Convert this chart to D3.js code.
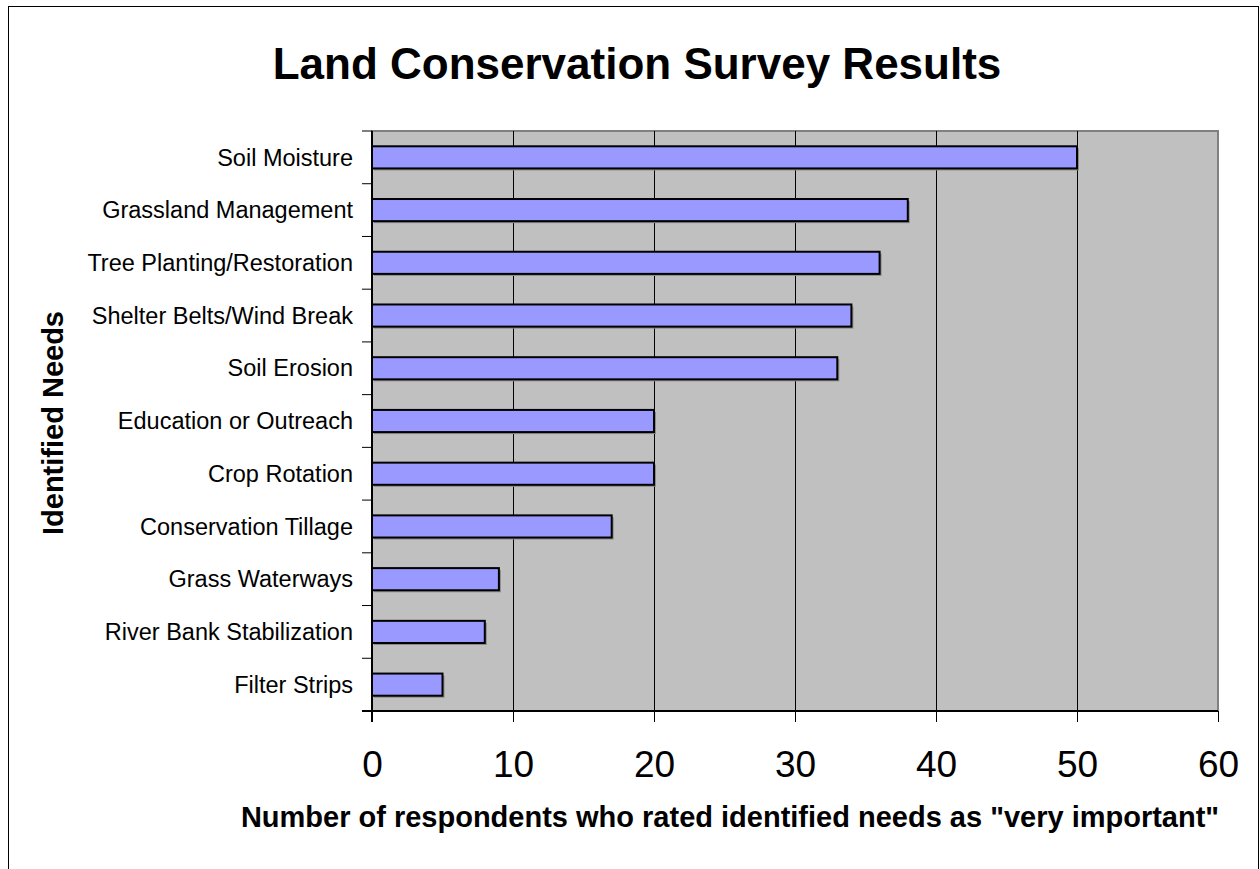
<!DOCTYPE html>
<html>
<head>
<meta charset="utf-8">
<script src="https://cdn.jsdelivr.net/npm/d3@7"></script>
<style>
  html, body { margin: 0; padding: 0; background: #fff; }
  svg { display: block; font-family: "Liberation Sans", Arial, sans-serif; }
</style>
</head>
<body>
<svg id="chart" width="1260" height="869"></svg>
<script>
const categories = [
  "Soil Moisture",
  "Grassland Management",
  "Tree Planting/Restoration",
  "Shelter Belts/Wind Break",
  "Soil Erosion",
  "Education or Outreach",
  "Crop Rotation",
  "Conservation Tillage",
  "Grass Waterways",
  "River Bank Stabilization",
  "Filter Strips"
];
const values = [50, 38, 36, 34, 33, 20, 20, 17, 9, 8, 5];
const xTicks = [0, 10, 20, 30, 40, 50, 60];
const titleText = "Land Conservation Survey Results";
const xTitleText = "Number of respondents who rated identified needs as \"very important\"";
const yTitleText = "Identified Needs";

const svg = d3.select("#chart");
const plot = { left: 372, right: 1218, top: 131, bottom: 711 };

// outer border (bottom runs off the picture)
svg.append("rect")
  .attr("x", 8.5).attr("y", 6.5)
  .attr("width", 1250).attr("height", 900)
  .attr("fill", "#fff").attr("stroke", "#000").attr("stroke-width", 1);

const x = d3.scaleLinear().domain([0, 60]).range([plot.left, plot.right]);
const y = d3.scaleBand().domain(categories).range([plot.top, plot.bottom]).paddingInner(0.58).paddingOuter(0.29);
const yb = d3.scaleBand().domain(categories).range([plot.top, plot.bottom]);

// plot background
svg.append("rect")
  .attr("x", plot.left).attr("y", plot.top)
  .attr("width", plot.right - plot.left).attr("height", plot.bottom - plot.top)
  .attr("fill", "#c0c0c0").attr("stroke", "#808080").attr("stroke-width", 2);

// gridlines
svg.append("g").selectAll("line")
  .data(xTicks.filter(d => d > 0 && d < 60))
  .join("line")
  .attr("x1", d => x(d) + 0.5).attr("x2", d => x(d) + 0.5)
  .attr("y1", plot.top).attr("y2", plot.bottom)
  .attr("stroke", "#000").attr("stroke-width", 1);

// bar shadows
svg.append("g").selectAll("rect")
  .data(categories)
  .join("rect")
  .attr("x", x(0) + 2)
  .attr("y", d => y(d) + 2)
  .attr("width", (d, i) => x(values[i]) - x(0))
  .attr("height", y.bandwidth())
  .attr("fill", "#8a8a8a");

// bars
svg.append("g").selectAll("rect")
  .data(categories)
  .join("rect")
  .attr("x", x(0))
  .attr("y", d => y(d))
  .attr("width", (d, i) => x(values[i]) - x(0))
  .attr("height", y.bandwidth())
  .attr("fill", "#9999ff")
  .attr("stroke", "#000").attr("stroke-width", 2);

// x axis
const xAxis = d3.axisBottom(x).tickValues(xTicks).tickSize(11).tickPadding(29).tickFormat(d3.format("d"));
const gx = svg.append("g").attr("transform", `translate(0,${plot.bottom})`).call(xAxis);
gx.select(".domain").attr("stroke", "#000").attr("stroke-width", 2).attr("d", `M${plot.left - 10},0H${plot.right}`);
gx.selectAll(".tick line").attr("stroke", "#000").attr("stroke-width", 1);
gx.selectAll(".tick text").attr("fill", "#000").style("font-size", "37px").attr("font-family", "Liberation Sans, Arial, sans-serif");

// y axis: ticks at band boundaries, labels at band centers
const gy = svg.append("g").attr("transform", `translate(${plot.left},0)`);
gy.append("line").attr("x1", 0).attr("x2", 0).attr("y1", plot.top).attr("y2", plot.bottom + 11)
  .attr("stroke", "#000").attr("stroke-width", 2);
const bounds = categories.map(c => yb(c)).concat([plot.bottom]);
gy.selectAll("line.tk").data(bounds).join("line").attr("class", "tk")
  .attr("x1", -10).attr("x2", 0)
  .attr("y1", d => d).attr("y2", d => d)
  .attr("stroke", "#000").attr("stroke-width", 1);
gy.selectAll("text").data(categories).join("text")
  .attr("x", -19)
  .attr("y", d => yb(d) + yb.bandwidth() / 2)
  .attr("dy", "0.35em")
  .attr("text-anchor", "end")
  .style("font-size", "23.5px")
  .text(d => d);

// title
svg.append("text")
  .attr("x", 637).attr("y", 79)
  .attr("text-anchor", "middle")
  .style("font-size", "44px").style("font-weight", "bold")
  .text(titleText);

// x title
svg.append("text")
  .attr("x", 730).attr("y", 827)
  .attr("text-anchor", "middle")
  .style("font-size", "29px").style("font-weight", "bold")
  .text(xTitleText);

// y title
svg.append("text")
  .attr("transform", `translate(63,${423}) rotate(-90)`)
  .attr("text-anchor", "middle")
  .style("font-size", "29px").style("font-weight", "bold")
  .text(yTitleText);
</script>
</body>
</html>
